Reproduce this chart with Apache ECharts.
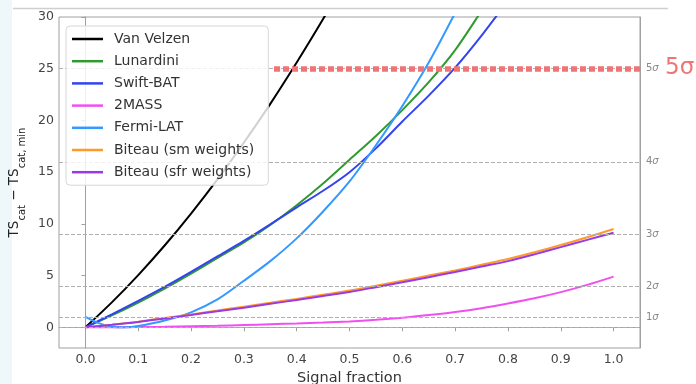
<!DOCTYPE html>
<html><head><meta charset="utf-8">
<script src="https://cdn.jsdelivr.net/npm/echarts@6/dist/echarts.min.js"></script>
<style>html,body{margin:0;padding:0;background:#fff}#c{width:696px;height:384px}</style>
</head><body><div id="c"></div>
<script>
const xs = [0,0.05,0.1,0.15,0.2,0.25,0.3,0.35,0.4,0.45,0.5,0.55,0.6,0.65,0.7,0.75,0.8,0.85,0.9,0.95,1.0];
const fermiX = [0,0.025,0.05,0.075,0.1,0.15,0.2,0.25,0.3,0.35,0.4,0.45,0.5,0.55,0.6,0.65,0.7,0.75];
const vanVelzen = [0,2.41,5.05,7.91,11.0,14.3,17.85,21.6,25.6,29.8,34.25];
const lunardini = [0,1.15,2.4,3.75,5.2,6.7,8.2,9.9,11.8,13.9,16.2,18.5,21.0,23.7,26.8,30.6,34.5];
const swiftBat = [0,1.25,2.55,3.9,5.35,6.85,8.35,9.95,11.6,13.2,15.0,17.3,19.9,22.4,25.1,28.2,31.6];
const twoMass = [0,0,0.02,0.05,0.1,0.15,0.22,0.3,0.38,0.47,0.57,0.72,0.92,1.18,1.48,1.85,2.3,2.8,3.4,4.1,4.9];
const fermiLat = [1.0,0.4,0.05,0.0,0.12,0.65,1.45,2.7,4.5,6.4,8.6,11.2,14.1,17.6,21.4,25.6,30.4,35.5];
const biteauSm = [0,0.25,0.55,0.9,1.25,1.62,2.0,2.37,2.75,3.15,3.55,4.02,4.5,5.0,5.5,6.05,6.6,7.25,7.95,8.7,9.5];
const biteauSfr = [0,0.24,0.52,0.86,1.2,1.55,1.9,2.27,2.65,3.03,3.42,3.88,4.35,4.85,5.35,5.87,6.4,7.05,7.75,8.45,9.15];
const seriesNames = ['Van Velzen','Lunardini','Swift-BAT','2MASS','Fermi-LAT','Biteau (sm weights)','Biteau (sfr weights)'];
const seriesColors = ['#000000','#2f9a2f','#3344ee','#f050f0','#3399ff','#ff9a2a','#9a3ae6'];
const xTicks = [0,0.1,0.2,0.3,0.4,0.5,0.6,0.7,0.8,0.9,1.0];
const yTicks = [0,5,10,15,20,25,30];
const sigmaValues = [0,1,4,9,16,25];
const sigmaLabelValues = [1,4,9,16,25];
const sigmaLabels = ['1','2','3','4','5'];
const fiveSigmaStart = 0.357;

const FONT = 'DejaVu Sans';
function pairs(x, y){ return y.map((v,i)=>[x[i], v]); }
const seriesData = [
  pairs(xs, vanVelzen), pairs(xs, lunardini), pairs(xs, swiftBat), pairs(xs, twoMass),
  pairs(fermiX, fermiLat), pairs(xs, biteauSm), pairs(xs, biteauSfr)
];

const chart = echarts.init(document.getElementById('c'));
const series = [{
  type: 'line', data: [], silent: true, z: 1,
  markLine: {
    silent: true, symbol: 'none', animation: false,
    label: {show: false},
    lineStyle: {color: '#b0b0b0', type: [4, 2], width: 1.2},
    data: sigmaValues.map(v => ({yAxis: v}))
  }
}, {
  type: 'line', data: [], silent: true, z: 1,
  markLine: {
    silent: true, symbol: 'none', animation: false,
    label: {show: false},
    lineStyle: {color: '#f07474', type: [6, 3], width: 5.5},
    data: [[{coord: [fiveSigmaStart, 25]}, {coord: [1.05, 25]}]]
  }
}];
seriesNames.forEach((n, i) => {
  series.push({
    name: n, type: 'line', data: seriesData[i], showSymbol: false, smooth: 0.3,
    clip: true, z: 3,
    lineStyle: {color: seriesColors[i], width: 2}, itemStyle: {color: seriesColors[i]},
    animation: false
  });
});

chart.setOption({
  animation: false,
  textStyle: {fontFamily: FONT},
  grid: {left: 59, right: 56, top: 17, bottom: 36, show: true, borderColor: '#a0a0a0', borderWidth: 1,
    outerBoundsMode: 'none', containLabel: false},
  legend: {
    data: seriesNames, orient: 'vertical', left: 66, top: 26, icon: 'rect',
    itemWidth: 31, itemHeight: 2.5, itemGap: 6.2,
    padding: [5, 14, 5, 6], backgroundColor: 'rgba(255,255,255,0.82)',
    borderColor: '#d8d8d8', borderWidth: 1, borderRadius: 4, z: 10,
    textStyle: {fontFamily: FONT, fontSize: 14, color: '#333', lineHeight: 16, padding: [0,0,0,6]}
  },
  xAxis: {
    type: 'value', min: -0.05, max: 1.05,
    name: 'Signal fraction', nameLocation: 'middle', nameGap: 21,
    nameTextStyle: {fontFamily: FONT, fontSize: 14.5, color: '#333'},
    axisLine: {show: true, lineStyle: {color: '#a0a0a0'}},
    axisTick: {show: true, length: 4, lineStyle: {color: '#a0a0a0'}, customValues: xTicks},
    axisLabel: {customValues: xTicks, fontFamily: FONT, fontSize: 12.5, color: '#444', margin: 5,
      formatter: v => v.toFixed(1)},
    splitLine: {show: false}
  },
  yAxis: [{
    type: 'value', min: -2, max: 30,
    name: '{m|TS}{s|cat}{m| − TS}{s|cat, min}', nameLocation: 'middle', nameGap: 20, nameRotate: 90,
    nameTextStyle: {color: '#222', rich: {
      m: {fontFamily: FONT, fontSize: 13.5, color: '#222', lineHeight: 20, verticalAlign: 'top'},
      s: {fontFamily: FONT, fontSize: 10, color: '#222', lineHeight: 20, verticalAlign: 'bottom'}
    }},
    axisLine: {show: true, lineStyle: {color: '#a0a0a0'}},
    axisTick: {show: true, length: 4, lineStyle: {color: '#a0a0a0'}, customValues: yTicks},
    axisLabel: {customValues: yTicks, fontFamily: FONT, fontSize: 12.5, color: '#444', margin: 5},
    splitLine: {show: false}
  }, {
    type: 'value', min: -2, max: 30, position: 'right',
    axisLine: {show: true, lineStyle: {color: '#a0a0a0'}},
    axisTick: {show: false},
    axisLabel: {customValues: sigmaLabelValues, margin: 6,
      formatter: v => '{n|' + sigmaLabels[sigmaLabelValues.indexOf(v)] + '}{s|σ}',
      rich: {n: {fontFamily: FONT, fontSize: 10, color: '#888'},
             s: {fontFamily: FONT, fontSize: 10, color: '#888', fontStyle: 'italic'}}},
    splitLine: {show: false}
  }],
  graphic: [
    {type: 'rect', left: 0, top: 0, shape: {width: 12, height: 384}, style: {fill: '#eef7fa'}, silent: true},
    {type: 'line', shape: {x1: 13, y1: 8.5, x2: 668, y2: 8.5}, style: {stroke: '#cfcfcf', lineWidth: 1.5}, silent: true},
    {type: 'text', left: 665, top: 57, style: {text: '5σ', fontFamily: FONT, fontSize: 23, fill: '#f07474'}, silent: true}
  ],
  series: series
});
</script></body></html>
